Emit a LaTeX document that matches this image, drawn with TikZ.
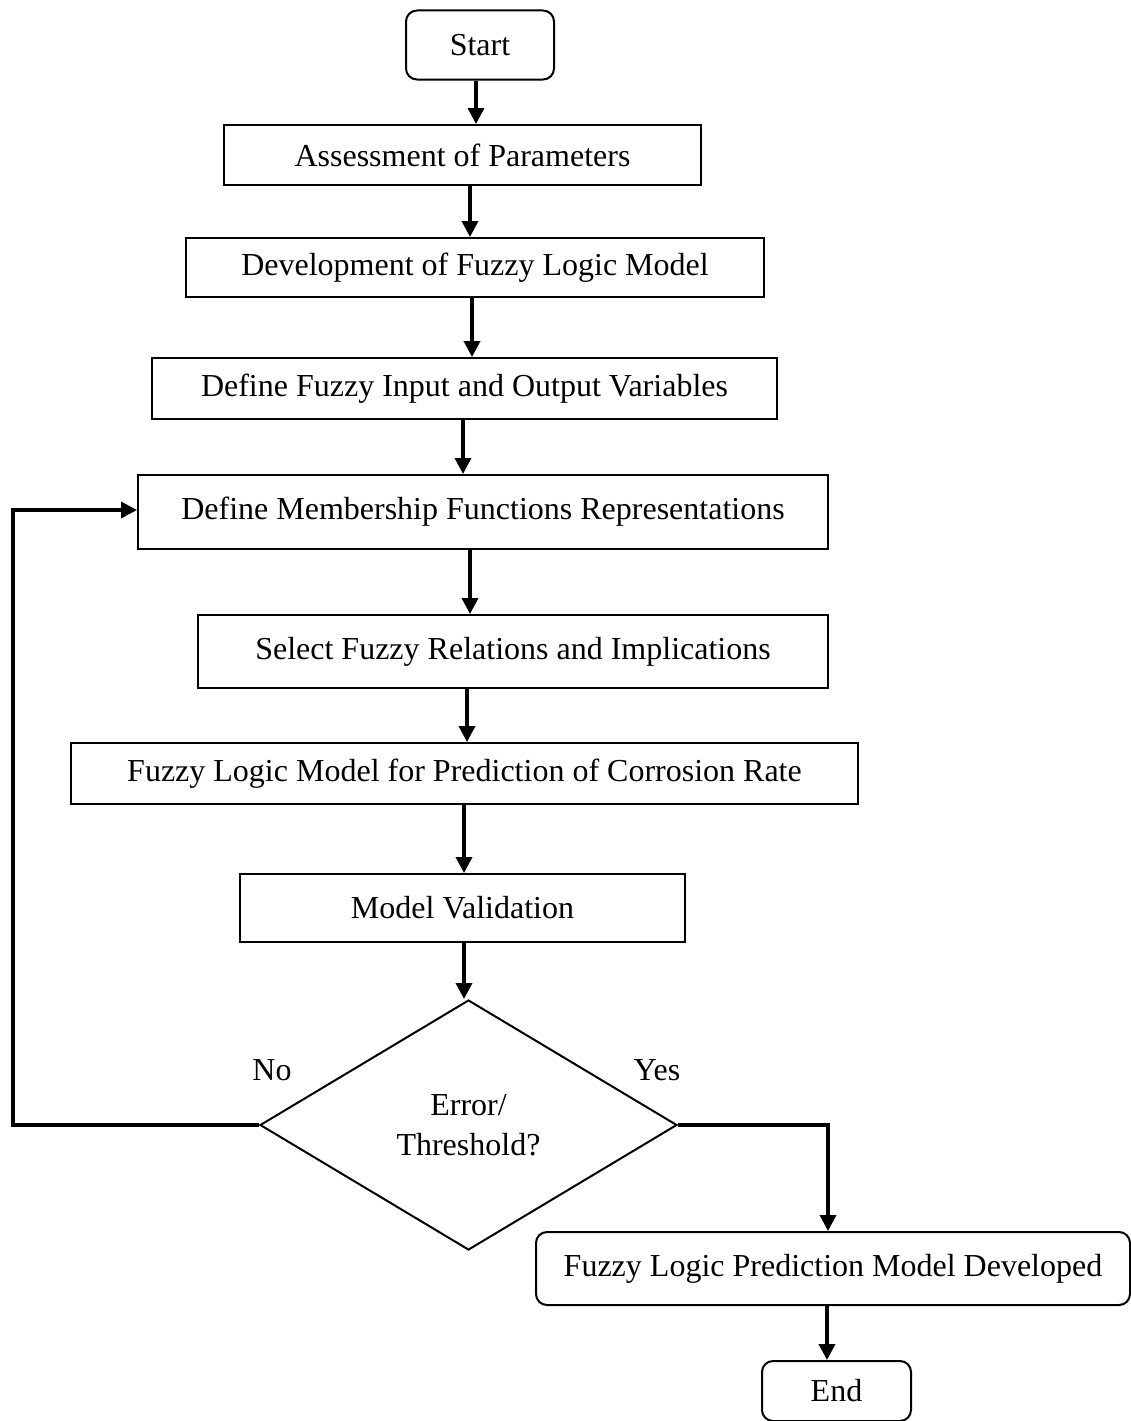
\documentclass[tikz,border=0pt]{standalone}
\usepackage{fontspec}
\setmainfont{Liberation Serif}
\usetikzlibrary{arrows.meta,shapes.geometric}
\begin{document}
\begin{tikzpicture}[x=1pt,y=-1pt,
  font=\fontsize{32}{40}\selectfont,
  box/.style={draw,line width=2pt,rectangle,inner sep=0pt,align=center},
  term/.style={box,rounded corners=11pt},
  decision/.style={draw,line width=2pt,diamond,inner sep=0pt,align=center},
  arr/.style={line width=3.5pt,-{Triangle[length=16pt,width=16pt]}}]
\useasboundingbox (0,0) rectangle (1131,1421);

% process steps
\node[term,minimum width=148pt,minimum height=69pt] (start) at (480,45) {Start};
\node[box,minimum width=477pt,minimum height=60pt] (assess) at (462.5,155) {Assessment of Parameters};
\node[box,minimum width=578pt,minimum height=59pt] (devel) at (475,267.5) {Development of Fuzzy Logic Model};
\node[box,minimum width=625pt,minimum height=61pt] (iovar) at (464.5,388.5) {Define Fuzzy Input and Output Variables};
\node[box,minimum width=690pt,minimum height=74pt] (member) at (483,512) {Define Membership Functions Representations};
\node[box,minimum width=630pt,minimum height=73pt] (select) at (513,651.5) {Select Fuzzy Relations and Implications};
\node[box,minimum width=787pt,minimum height=61pt] (model) at (464.5,773.5) {Fuzzy Logic Model for Prediction of Corrosion Rate};
\node[box,minimum width=445pt,minimum height=68pt] (valid) at (462.5,908) {Model Validation};
\node[decision,minimum width=417pt,minimum height=250pt] (check) at (468.5,1125) {Error/\\Threshold?};
\node[term,minimum width=594pt,minimum height=73pt] (final) at (833,1268.5) {Fuzzy Logic Prediction Model Developed};
\node[term,minimum width=149pt,minimum height=60pt] (stop) at (836.5,1391) {End};

% branch labels
\node (no) at (272,1070) {No};
\node (yes) at (657,1070) {Yes};

% main flow
\draw[arr] (start.south -| 476,0) -- (assess.north -| 476,0);
\draw[arr] (assess.south -| 470,0) -- (devel.north -| 470,0);
\draw[arr] (devel.south -| 472,0) -- (iovar.north -| 472,0);
\draw[arr] (iovar.south -| 463,0) -- (member.north -| 463,0);
\draw[arr] (member.south -| 470,0) -- (select.north -| 470,0);
\draw[arr] (select.south -| 467,0) -- (model.north -| 467,0);
\draw[arr] (model.south -| 464,0) -- (valid.north -| 464,0);
\draw[arr] (valid.south -| 464,0) -- (check.north -| 464,0);

% yes branch
\coordinate (ybend) at (828,1125);
\draw[arr] (check.east) -- (ybend) -- (final.north -| ybend);
\draw[arr] (final.south -| 827,0) -- (stop.north -| 827,0);

% no branch, back to the membership step
\coordinate (nbend) at (13,1125);
\draw[arr] (check.west) -- (nbend) -- (13,510) -- (member.west |- 0,510);
\end{tikzpicture}
\end{document}
